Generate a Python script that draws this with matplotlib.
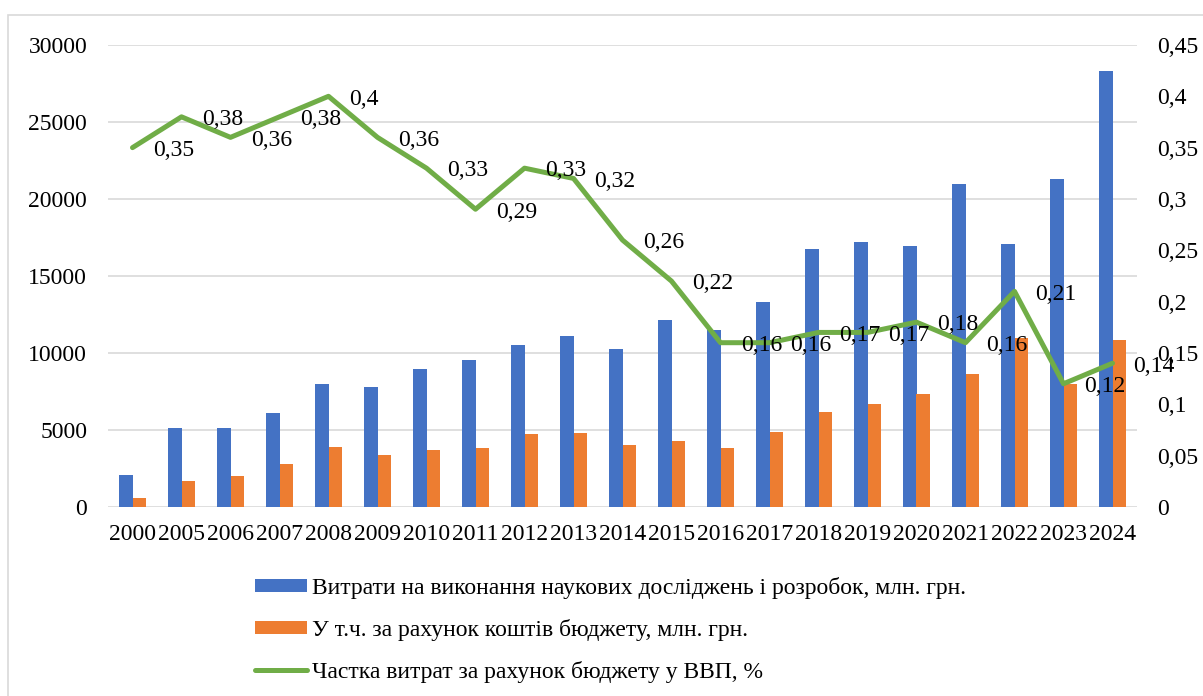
import numpy as np
import matplotlib
matplotlib.use("Agg")
import matplotlib.pyplot as plt
from matplotlib.patches import Rectangle
from matplotlib.ticker import FuncFormatter

# дані
years = ["2000", "2005", "2006", "2007", "2008", "2009", "2010", "2011", "2012", "2013",
         "2014", "2015", "2016", "2017", "2018", "2019", "2020", "2021", "2022", "2023", "2024"]
total = [2046, 5160, 5160, 6100, 7970, 7790, 8960, 9550, 10520, 11100,
         10280, 12170, 11470, 13340, 16730, 17230, 16970, 20950, 17080, 21320, 28290]
budget = [590, 1710, 2010, 2820, 3900, 3400, 3700, 3830, 4740, 4790,
          4050, 4270, 3860, 4850, 6190, 6710, 7360, 8620, 10970, 7970, 10870]
share = [0.35, 0.38, 0.36, 0.38, 0.4, 0.36, 0.33, 0.29, 0.33, 0.32,
         0.26, 0.22, 0.16, 0.16, 0.17, 0.17, 0.18, 0.16, 0.21, 0.12, 0.14]

lbl_total = "Витрати на виконання наукових досліджень і розробок, млн. грн."
lbl_budget = "У т.ч. за рахунок коштів бюджету, млн. грн."
lbl_share = "Частка витрат за рахунок бюджету у ВВП, %"

plt.rcParams['font.family'] = ['Liberation Serif', 'DejaVu Serif']
plt.rcParams['font.size'] = 17

blue, orange, green = "#4472c4", "#ed7d31", "#70ad47"

fig = plt.figure(figsize=(12.03, 6.96), dpi=100)
# рамка діаграми
fig.patches.append(Rectangle((8 / 1203, -0.05), 1.05, 1 - 15 / 696 + 0.05,
                             transform=fig.transFigure, fill=False,
                             edgecolor="#d9d9d9", linewidth=1.2))

ax = fig.add_axes([108 / 1203, 0.2716, 1029 / 1203, 0.6638])
ax2 = ax.twinx()

x = np.arange(len(years))
w = 0.285
b1 = ax.bar(x - w / 2, total, w, color=blue, label=lbl_total, zorder=2)
b2 = ax.bar(x + w / 2, budget, w, color=orange, label=lbl_budget, zorder=2)
ln, = ax2.plot(x, share, color=green, linewidth=3.6, label=lbl_share,
               solid_joinstyle="round", solid_capstyle="round", zorder=3)

for xi, v in zip(x, share):
    txt = ("%g" % v).replace(".", ",")
    ax2.annotate(txt, (xi, v), xytext=(15, -2), textcoords="offset points",
                 ha="left", va="center", fontsize=17)

ax.set_ylim(0, 30000)
ax.set_yticks(np.arange(0, 30001, 5000))
ax2.set_ylim(0, 0.45)
ax2.set_yticks(np.arange(0, 0.451, 0.05))
ax2.yaxis.set_major_formatter(FuncFormatter(lambda v, p: ("%g" % round(v, 2)).replace(".", ",")))
ax.set_xlim(-0.5, len(years) - 0.5)
ax.set_xticks(x)
ax.set_xticklabels(years)

ax.yaxis.grid(True, color="#d9d9d9", linewidth=1.2, zorder=0)
ax.set_axisbelow(True)
for a in (ax, ax2):
    for s in a.spines.values():
        s.set_visible(False)
    a.tick_params(length=0)
ax.tick_params(axis="x", pad=12)
ax.tick_params(axis="y", pad=15)
ax2.tick_params(axis="y", pad=14.4)

fig.legend(handles=[b1, b2, ln], loc="upper left",
           bbox_to_anchor=(255 / 1203, 1 - 577 / 696), frameon=False,
           borderaxespad=0, borderpad=0, handlelength=2.2, handleheight=0.5,
           handletextpad=0.2, labelspacing=0.84, fontsize=17)

fig.savefig("out.png", dpi=100)
